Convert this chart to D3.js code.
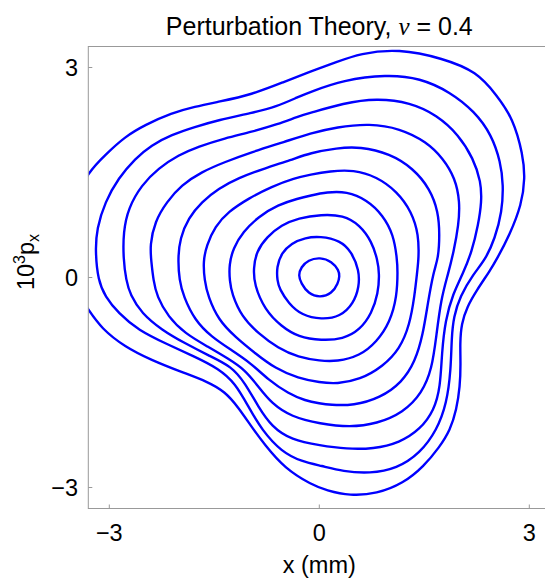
<!DOCTYPE html>
<html lang="en">
<head>
    <meta charset="UTF-8">
    <title>Perturbation Theory contours</title>
    <script src="https://d3js.org/d3.v7.min.js"></script>
    <style>
        body{ margin:0; background:white; }
        .tick-label, .axis-title{
            font-family: Arial, "Liberation Sans", sans-serif;
            font-size: 23.5px;
            fill: black;
        }
        .title{
            font-family: Arial, "Liberation Sans", sans-serif;
            font-size: 25px;
            fill: black;
        }
    </style>
</head>
<body>
<svg id="main" width="545" height="578"></svg>
<script>
    // tick values
    let xTicks = [-3, 0, 3];
    let yTicks = [-3, 0, 3];
    let domain = [-3.3, 3.3];

    // contour lines, [x (mm), 10^3 px], innermost first
    let c1 = [[0.01,0.29],[-0.16,0.25],[-0.26,0.15],[-0.30,0.03],[-0.26,-0.08],[-0.16,-0.23],[0.01,-0.29],
        [0.18,-0.23],[0.27,-0.08],[0.29,0.02],[0.28,0.10],[0.18,0.23]];
    let c2 = [[0.01,0.59],[-0.20,0.57],[-0.40,0.49],[-0.54,0.35],[-0.61,0.15],[-0.60,-0.05],[-0.57,-0.16],
        [-0.44,-0.37],[-0.25,-0.54],[0.03,-0.60],[0.30,-0.56],[0.49,-0.37],[0.57,-0.13],[0.57,0.10],
        [0.46,0.37],[0.30,0.53]];
    let c3 = [[0.03,0.90],[-0.30,0.85],[-0.54,0.75],[-0.75,0.58],[-0.90,0.37],[-0.94,0.13],[-0.93,-0.10],
        [-0.78,-0.46],[-0.54,-0.70],[-0.30,-0.85],[0.03,-0.90],[0.34,-0.88],[0.58,-0.75],[0.75,-0.51],
        [0.84,-0.23],[0.86,0.05],[0.83,0.26],[0.75,0.51],[0.58,0.75],[0.34,0.89]];
    let c4 = [[0.11,1.22],[-0.13,1.17],[-0.30,1.13],[-0.59,1.04],[-0.87,0.87],[-1.09,0.65],[-1.23,0.42],
        [-1.29,0.18],[-1.28,-0.05],[-1.25,-0.23],[-1.11,-0.56],[-0.87,-0.80],[-0.59,-1.01],[-0.30,-1.14],
        [0.01,-1.19],[0.25,-1.20],[0.58,-1.12],[0.82,-0.92],[1.01,-0.64],[1.11,-0.27],[1.12,0.10],
        [1.11,0.27],[1.06,0.61],[0.91,0.89],[0.68,1.11],[0.39,1.23]];
    let c5 = [[0.15,1.52],[-0.13,1.47],[-0.35,1.42],[-0.68,1.30],[-1.01,1.13],[-1.30,0.94],[-1.49,0.73],
        [-1.61,0.46],[-1.66,0.23],[-1.64,-0.04],[-1.59,-0.27],[-1.44,-0.61],[-1.20,-0.85],[-0.92,-1.08],
        [-0.63,-1.30],[-0.30,-1.44],[0.01,-1.50],[0.25,-1.52],[0.58,-1.46],[0.91,-1.27],[1.15,-1.02],
        [1.29,-0.68],[1.36,-0.27],[1.40,0.10],[1.42,0.27],[1.42,0.61],[1.32,0.94],[1.11,1.23],[0.82,1.44],
        [0.49,1.54]];
    let c6 = [[0.25,1.85],[-0.13,1.78],[-0.40,1.68],[-0.78,1.56],[-1.16,1.42],[-1.44,1.27],[-1.68,1.08],
        [-1.87,0.85],[-1.99,0.56],[-2.02,0.27],[-2.00,-0.04],[-1.94,-0.27],[-1.78,-0.61],[-1.54,-0.85],
        [-1.25,-1.04],[-0.97,-1.23],[-0.73,-1.46],[-0.44,-1.66],[-0.20,-1.76],[0.01,-1.80],[0.15,-1.82],
        [0.49,-1.83],[0.87,-1.72],[1.18,-1.50],[1.37,-1.20],[1.48,-0.82],[1.55,-0.37],[1.63,0.08],
        [1.70,0.27],[1.72,0.61],[1.70,0.94],[1.58,1.27],[1.34,1.56],[1.01,1.77],[0.58,1.87]];
    let c7 = [[0.25,2.15],[-0.13,2.06],[-0.49,1.94],[-0.97,1.79],[-1.35,1.65],[-1.68,1.51],[-1.97,1.32],
        [-2.18,1.08],[-2.35,0.80],[-2.42,0.46],[-2.40,0.23],[-2.37,-0.04],[-2.32,-0.27],[-2.16,-0.56],
        [-1.92,-0.80],[-1.59,-0.99],[-1.30,-1.16],[-1.06,-1.32],[-0.87,-1.56],[-0.68,-1.80],[-0.40,-1.99],
        [0.01,-2.09],[0.44,-2.14],[0.82,-2.09],[1.20,-1.93],[1.47,-1.65],[1.61,-1.30],[1.67,-0.85],
        [1.74,-0.30],[1.84,0.05],[1.92,0.37],[1.99,0.75],[2.01,1.08],[1.94,1.42],[1.77,1.70],[1.53,1.94],
        [1.15,2.13],[0.72,2.20]];
    let c8 = [[0.34,2.49],[-0.13,2.35],[-0.30,2.30],[-0.59,2.19],[-0.97,2.08],[-1.35,1.99],[-1.73,1.87],
        [-2.01,1.75],[-2.30,1.56],[-2.54,1.32],[-2.73,0.99],[-2.80,0.65],[-2.80,0.27],[-2.76,-0.04],
        [-2.70,-0.25],[-2.54,-0.51],[-2.25,-0.75],[-1.92,-0.94],[-1.59,-1.11],[-1.25,-1.27],[-1.06,-1.51],
        [-0.87,-1.85],[-0.68,-2.13],[-0.40,-2.32],[0.01,-2.40],[0.39,-2.45],[0.77,-2.45],[1.15,-2.36],
        [1.44,-2.17],[1.64,-1.90],[1.73,-1.56],[1.75,-1.08],[1.80,-0.61],[1.91,-0.23],[2.05,0.05],
        [2.18,0.37],[2.27,0.75],[2.32,1.08],[2.31,1.37],[2.20,1.70],[1.99,2.04],[1.68,2.32],[1.30,2.50],
        [0.82,2.56]];
    let c9 = [[0.34,2.82],[-0.13,2.65],[-0.30,2.58],[-0.61,2.44],[-0.97,2.35],[-1.44,2.25],[-1.78,2.15],
        [-2.11,2.04],[-2.40,1.89],[-2.63,1.70],[-2.87,1.42],[-3.06,1.08],[-3.18,0.70],[-3.20,0.37],
        [-3.16,-0.04],[-3.06,-0.27],[-2.87,-0.51],[-2.59,-0.75],[-2.16,-0.96],[-1.78,-1.13],[-1.44,-1.30],
        [-1.20,-1.51],[-1.01,-1.85],[-0.82,-2.18],[-0.54,-2.49],[-0.25,-2.63],[0.03,-2.69],[0.34,-2.77],
        [0.72,-2.80],[1.11,-2.73],[1.44,-2.51],[1.68,-2.18],[1.82,-1.80],[1.88,-1.32],[1.89,-0.85],
        [1.92,-0.56],[2.01,-0.27],[2.20,0.05],[2.37,0.25],[2.51,0.56],[2.61,0.94],[2.63,1.32],[2.59,1.65],
        [2.46,2.04],[2.22,2.37],[1.87,2.65],[1.44,2.85],[0.96,2.90]];
    let c10 = [[0.25,3.08],[-0.13,2.94],[-0.49,2.80],[-0.97,2.61],[-1.44,2.51],[-1.78,2.44],[-2.11,2.35],
        [-2.49,2.18],[-2.78,2.01],[-3.06,1.75],[-3.30,1.51],[-3.50,1.10],[-3.60,0.50],[-3.50,-0.15],
        [-3.30,-0.46],[-3.11,-0.73],[-2.78,-0.99],[-2.40,-1.18],[-1.97,-1.35],[-1.59,-1.49],[-1.35,-1.63],
        [-1.16,-1.85],[-0.97,-2.13],[-0.78,-2.39],[-0.49,-2.73],[-0.11,-2.96],[0.10,-3.04],[0.44,-3.12],
        [0.82,-3.09],[1.20,-2.94],[1.49,-2.70],[1.72,-2.42],[1.87,-2.18],[1.96,-1.89],[2.01,-1.56],
        [2.02,-1.23],[2.01,-0.94],[2.03,-0.66],[2.11,-0.42],[2.25,-0.18],[2.44,0.10],[2.54,0.27],
        [2.72,0.61],[2.89,1.04],[2.94,1.42],[2.91,1.75],[2.77,2.27],[2.53,2.61],[2.25,2.94],[1.77,3.13],
        [1.13,3.27],[0.58,3.20]];
    let contours = [c1, c2, c3, c4, c5, c6, c7, c8, c9, c10];

    let svg = d3.select('svg#main');

    let xScale = d3.scaleLinear().domain(domain).range([88.3, 550.3]);
    let yScale = d3.scaleLinear().domain(domain).range([508.5, 46.5]);

    svg.append('clipPath').attr('id', 'plotClip')
        .append('rect')
        .attr('x', xScale(domain[0]))
        .attr('y', yScale(domain[1]))
        .attr('width', xScale(domain[1]) - xScale(domain[0]))
        .attr('height', yScale(domain[0]) - yScale(domain[1]));

    // B-spline smooths out the hand-read wobble
    let line = d3.line()
        .x(function(d){return xScale(d[0]);})
        .y(function(d){return yScale(d[1]);})
        .curve(d3.curveBasisClosed);

    svg.append('g')
        .attr('clip-path', 'url(#plotClip)')
        .selectAll('path')
        .data(contours)
        .enter()
        .append('path')
        .attr('d', line)
        .attr('fill', 'none')
        .attr('stroke', '#0000ff')
        .attr('stroke-width', 2.4)
        .attr('stroke-linejoin', 'round');

    // frame
    svg.append('rect')
        .attr('x', xScale(domain[0]))
        .attr('y', yScale(domain[1]))
        .attr('width', xScale(domain[1]) - xScale(domain[0]))
        .attr('height', yScale(domain[0]) - yScale(domain[1]))
        .attr('fill', 'none')
        .attr('stroke', '#999999')
        .attr('stroke-width', 1);

    // ticks, pointing inwards
    svg.selectAll('line.xtick')
        .data(xTicks)
        .enter()
        .append('line')
        .attr('class', 'xtick')
        .attr('x1', function(d){return xScale(d);})
        .attr('x2', function(d){return xScale(d);})
        .attr('y1', yScale(domain[0]))
        .attr('y2', yScale(domain[0]) - 4)
        .attr('stroke', '#999999');

    svg.selectAll('line.ytick')
        .data(yTicks)
        .enter()
        .append('line')
        .attr('class', 'ytick')
        .attr('y1', function(d){return yScale(d);})
        .attr('y2', function(d){return yScale(d);})
        .attr('x1', xScale(domain[0]))
        .attr('x2', xScale(domain[0]) + 4)
        .attr('stroke', '#999999');

    function fmt(d){ return d < 0 ? '\u2212' + Math.abs(d) : String(d); }

    svg.selectAll('text.xlab')
        .data(xTicks)
        .enter()
        .append('text')
        .attr('class', 'tick-label xlab')
        .attr('x', function(d){return xScale(d);})
        .attr('y', 541)
        .attr('text-anchor', 'middle')
        .text(fmt);

    svg.selectAll('text.ylab')
        .data(yTicks)
        .enter()
        .append('text')
        .attr('class', 'tick-label ylab')
        .attr('x', 78)
        .attr('y', function(d){return yScale(d) + 8.5;})
        .attr('text-anchor', 'end')
        .text(fmt);

    // axis titles
    svg.append('text')
        .attr('class', 'axis-title')
        .attr('x', xScale(0))
        .attr('y', 573)
        .attr('text-anchor', 'middle')
        .text('x (mm)');

    let yTitle = svg.append('text')
        .attr('class', 'axis-title')
        .attr('text-anchor', 'middle')
        .attr('transform', 'translate(34,' + 262 + ') rotate(-90)');
    yTitle.append('tspan').text('10');
    yTitle.append('tspan').attr('dy', -9).style('font-size', '16px').text('3');
    yTitle.append('tspan').attr('dy', 9).text('p');
    yTitle.append('tspan').attr('dy', 5).style('font-size', '16px').text('x');

    // title
    let title = svg.append('text')
        .attr('class', 'title')
        .attr('x', xScale(0))
        .attr('y', 35)
        .attr('text-anchor', 'middle');
    title.append('tspan').text('Perturbation Theory, ');
    title.append('tspan')
        .style('font-family', '"Liberation Serif", "DejaVu Serif", serif')
        .style('font-style', 'italic')
        .text('\u03bd');
    title.append('tspan').text(' = 0.4');
</script>
</body>
</html>
